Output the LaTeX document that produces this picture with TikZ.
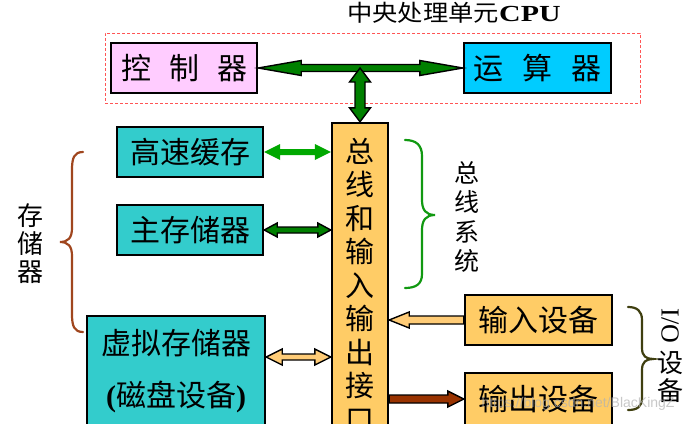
\documentclass[tikz,border=0pt]{standalone}
\usepackage{fontspec}
\setmainfont{Liberation Serif}
\setsansfont{Liberation Sans}
\newfontfamily\cjk{Noto Sans CJK SC}
\usetikzlibrary{calc}

\definecolor{pinkbox}{HTML}{FFCCFF}
\definecolor{cyanbox}{HTML}{00CCFF}
\definecolor{tealbox}{HTML}{33CCCC}
\definecolor{orangebox}{HTML}{FFCC66}
\definecolor{darkgreen}{HTML}{008000}
\definecolor{brightgreen}{HTML}{00A800}
\definecolor{peach}{HTML}{FFCC77}
\definecolor{brownarrow}{HTML}{993300}
\definecolor{bracebrown}{HTML}{A0461E}
\definecolor{bracegreen}{HTML}{119911}
\definecolor{braceolive}{HTML}{3F3F10}
\definecolor{dashred}{HTML}{FF5555}

% horizontal double block arrow: #1 left tip, #2 right tip, #3 head length, #4 head half width, #5 shaft half width, #6 style
\newcommand\hdblarrow[6]{\draw[#6] let \p1=(#1), \p2=(#2) in
  (\x1,\y1) -- (\x1+#3,\y1+#4) -- (\x1+#3,\y1+#5) -- (\x2-#3,\y1+#5) -- (\x2-#3,\y1+#4) -- (\x2,\y1)
  -- (\x2-#3,\y1-#4) -- (\x2-#3,\y1-#5) -- (\x1+#3,\y1-#5) -- (\x1+#3,\y1-#4) -- cycle;}
% vertical double block arrow: #1 top tip, #2 bottom tip
\newcommand\vdblarrow[6]{\draw[#6] let \p1=(#1), \p2=(#2) in
  (\x1,\y1) -- (\x1+#4,\y1-#3) -- (\x1+#5,\y1-#3) -- (\x1+#5,\y2+#3) -- (\x1+#4,\y2+#3) -- (\x1,\y2)
  -- (\x1-#4,\y2+#3) -- (\x1-#5,\y2+#3) -- (\x1-#5,\y1-#3) -- (\x1-#4,\y1-#3) -- cycle;}
% single block arrow pointing right: #1 tail, #2 tip
\newcommand\rblockarrow[6]{\draw[#6] let \p1=(#1), \p2=(#2) in
  (\x1,\y1+#5) -- (\x2-#3,\y1+#5) -- (\x2-#3,\y1+#4) -- (\x2,\y1) -- (\x2-#3,\y1-#4) -- (\x2-#3,\y1-#5) -- (\x1,\y1-#5) -- cycle;}
% single block arrow pointing left: #1 tail, #2 tip
\newcommand\lblockarrow[6]{\draw[#6] let \p1=(#1), \p2=(#2) in
  (\x1,\y1+#5) -- (\x2+#3,\y1+#5) -- (\x2+#3,\y1+#4) -- (\x2,\y1) -- (\x2+#3,\y1-#4) -- (\x2+#3,\y1-#5) -- (\x1,\y1-#5) -- cycle;}

\tikzset{
  box/.style={draw=black, line width=2.4pt, rectangle, inner sep=0pt, minimum height=50pt,
    font=\cjk\fontsize{30pt}{36pt}\selectfont},
  outlined/.style={draw=black, line width=1.4pt, line join=miter},
  bracestyle/.style={line width=2.2pt, line cap=round},
  vtext/.style={align=center, inner sep=0pt},
}

\begin{document}
\begin{tikzpicture}[x=1pt, y=-1pt]
\useasboundingbox (0,0) rectangle (696,423);
\clip (0,0) rectangle (696,423);
\fill[white] (0,0) rectangle (696,423);

% title
\node[inner sep=0pt] (title) at (454,13)
  {\scalebox{1.1}[1]{\cjk\fontsize{23pt}{26pt}\selectfont 中央处理单元}\scalebox{1.3}[1]{\fontsize{23pt}{26pt}\selectfont\bfseries CPU}};

% CPU frame
\node[draw=dashred, line width=1pt, dash pattern=on 3pt off 2pt, rectangle, inner sep=0pt,
  minimum width=535pt, minimum height=70pt] (cpu) at (372.5,68) {};

% boxes
\node[box, fill=pinkbox, minimum width=146pt] (ctrl) at (184,68) {控\hspace{18pt}制\hspace{18pt}器};
\node[box, fill=cyanbox, minimum width=147pt] (alu) at (537.5,68) {运\hspace{19pt}算\hspace{19pt}器};
\node[box, fill=tealbox, minimum width=146pt] (cache) at (190,152) {高速缓存};
\node[box, fill=tealbox, minimum width=146pt] (mem) at (190,230) {主存储器};
\node[box, fill=tealbox, minimum width=178pt, minimum height=110pt] (vm) at (176,371) {};
\node[inner sep=0pt, font=\cjk\fontsize{30pt}{36pt}\selectfont] (vmtop) at (176,343) {虚拟存储器};
\node[inner sep=0pt, font=\cjk\fontsize{30pt}{36pt}\selectfont] (vmbot) at (176,397)
  {{\rmfamily\bfseries (}磁盘设备{\rmfamily\bfseries )}};
\node[box, fill=orangebox, minimum width=56pt, minimum height=320pt] (bus) at (360,283) {};
\node[vtext, font=\cjk\fontsize{29pt}{33.5pt}\selectfont] (bustext) at (360,285)
  {总\\线\\和\\输\\入\\输\\出\\接\\口};
\node[box, fill=orangebox, minimum width=147pt] (in) at (538.5,320) {输入设备};
\node[box, fill=orangebox, minimum width=147pt, minimum height=52pt] (out) at (538.5,399) {输出设备};

% arrows
\hdblarrow{ctrl.east}{alu.west}{43pt}{7.5pt}{3.5pt}{outlined, fill=darkgreen}
\vdblarrow{bus.north |- ctrl.east}{bus.north}{14pt}{10.5pt}{5pt}{outlined, fill=darkgreen}
\hdblarrow{cache.east}{cache.east -| bus.west}{16pt}{8pt}{3pt}{draw=none, fill=brightgreen}
\hdblarrow{mem.east}{mem.east -| bus.west}{13pt}{7pt}{3pt}{outlined, fill=darkgreen}
\hdblarrow{vm.east |- vmtop.south}{vm.east |- vmtop.south -| bus.west}{16pt}{8pt}{3pt}{outlined, fill=peach}
\lblockarrow{in.west}{in.west -| bus.east}{20pt}{8pt}{4pt}{outlined, fill=peach}
\rblockarrow{bus.east |- out.west}{out.west}{16pt}{8pt}{4pt}{outlined, fill=brownarrow}

% braces
\draw[bracestyle, bracebrown] (83,152) .. controls (74,152) and (72,158) .. (72,170) -- (72,228)
  .. controls (72,238) and (68,242) .. (60,242) .. controls (68,242) and (72,246) .. (72,256)
  -- (72,314) .. controls (72,326) and (74,332) .. (83,332);
\draw[bracestyle, bracegreen] (405,140) .. controls (416,140) and (422,145) .. (422,156) -- (422,200)
  .. controls (422,210) and (426,215) .. (435,215) .. controls (426,215) and (422,220) .. (422,230)
  -- (422,274) .. controls (422,284) and (416,288) .. (405,288);
\draw[bracestyle, braceolive] (628,307) .. controls (637,307) and (642,311) .. (642,320) -- (642,348)
  .. controls (642,356) and (646,359) .. (653,359) .. controls (646,359) and (642,362) .. (642,370)
  -- (642,398) .. controls (642,407) and (637,410) .. (628,410);

% brace labels
\node[vtext, font=\cjk\fontsize{26pt}{28pt}\selectfont] (storage) at (30,244) {存\\储\\器};
\node[vtext, font=\cjk\fontsize{25pt}{29.5pt}\selectfont] (bussys) at (467,217) {总\\线\\系\\统};
\node[inner sep=0pt, font=\fontsize{26pt}{28pt}\selectfont] (io1) at (670,326) {\rotatebox{-90}{I/O}};
\node[inner sep=0pt, font=\cjk\fontsize{26pt}{28pt}\selectfont] (io2) at (670,363) {设};
\node[inner sep=0pt, font=\cjk\fontsize{26pt}{28pt}\selectfont] (io3) at (670,391) {备};

% watermark
\node[inner sep=0pt, text=gray!60, opacity=0.7, font=\sffamily\fontsize{14pt}{16pt}\selectfont] (wm) at (578,404)
  {https://blog.csdn.net/BlacKingZ};
\end{tikzpicture}
\end{document}
